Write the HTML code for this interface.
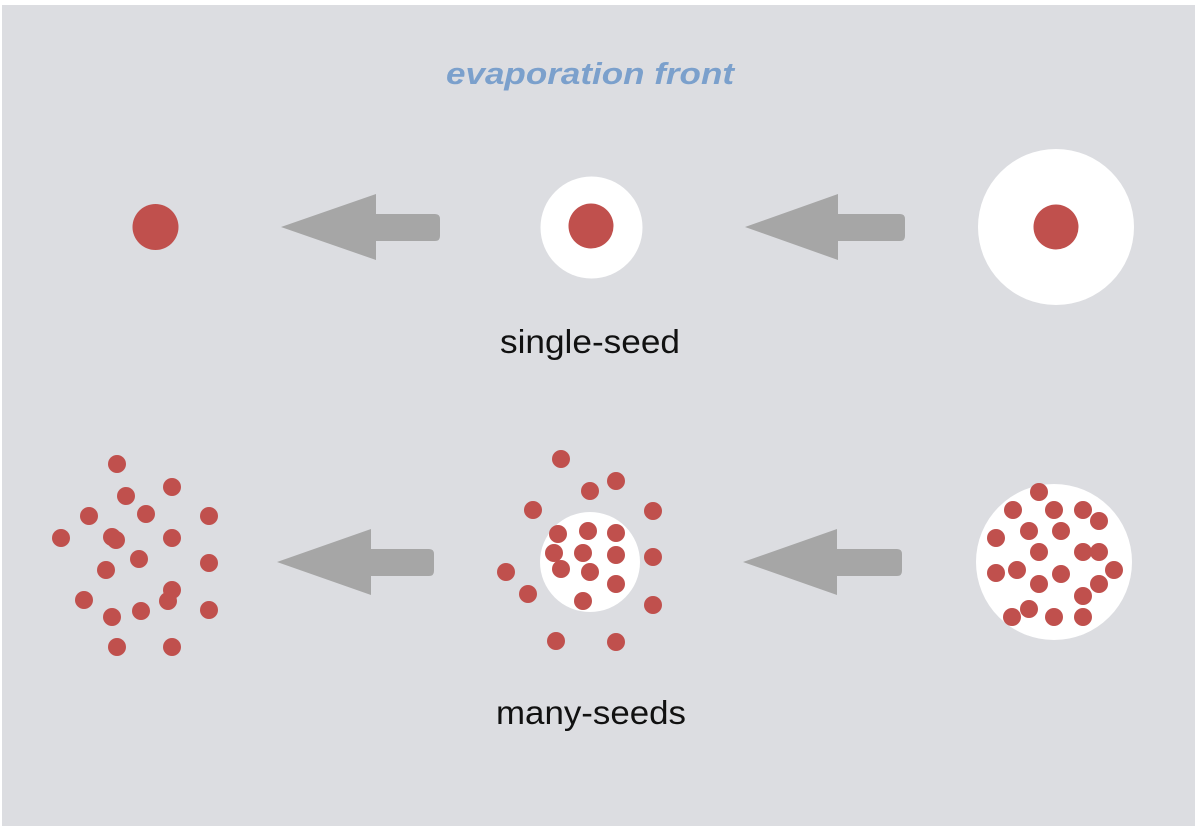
<!DOCTYPE html>
<html><head><meta charset="utf-8"><style>
html,body{margin:0;padding:0;background:#fff;}
svg{display:block;}
</style></head><body>
<svg width="1200" height="829" viewBox="0 0 1200 829" xmlns="http://www.w3.org/2000/svg">
<rect x="0" y="0" width="1200" height="829" fill="#ffffff"/>
<rect x="2" y="5" width="1193" height="821" fill="#dcdde1"/>
<text x="590" y="84" text-anchor="middle" font-family="Liberation Sans, sans-serif" font-size="31" font-style="italic" font-weight="bold" fill="#7ba0cc" textLength="288" lengthAdjust="spacingAndGlyphs">evaporation front</text>
<text x="590" y="353" text-anchor="middle" font-family="Liberation Sans, sans-serif" font-size="33" fill="#111" textLength="180" lengthAdjust="spacingAndGlyphs">single-seed</text>
<text x="591" y="724" text-anchor="middle" font-family="Liberation Sans, sans-serif" font-size="33" fill="#111" textLength="190" lengthAdjust="spacingAndGlyphs">many-seeds</text>
<g fill="#a6a6a6">
<path d="M281,227 L376,194 L376,214 L435,214 Q440,214 440,219 L440,236 Q440,241 435,241 L376,241 L376,260 Z"/>
<path d="M745,227 L838,194 L838,214 L900,214 Q905,214 905,219 L905,236 Q905,241 900,241 L838,241 L838,260 Z"/>
<path d="M277,562 L371,529 L371,549 L429,549 Q434,549 434,554 L434,571 Q434,576 429,576 L371,576 L371,595 Z"/>
<path d="M743,562 L837,529 L837,549 L897,549 Q902,549 902,554 L902,571 Q902,576 897,576 L837,576 L837,595 Z"/>
</g>
<g fill="#ffffff">
<circle cx="591.5" cy="227.5" r="51"/>
<circle cx="1056" cy="227" r="78"/>
<circle cx="590" cy="562" r="50"/>
<circle cx="1054" cy="562" r="78"/>
</g>
<g fill="#c0504d">
<circle cx="155.5" cy="227" r="23"/>
<circle cx="591" cy="226" r="22.5"/>
<circle cx="1056" cy="227" r="22.5"/>
</g>
<g fill="#c0504d">
<circle cx="117" cy="464" r="9"/><circle cx="172" cy="487" r="9"/><circle cx="126" cy="496" r="9"/><circle cx="89" cy="516" r="9"/><circle cx="146" cy="514" r="9"/><circle cx="209" cy="516" r="9"/><circle cx="61" cy="538" r="9"/><circle cx="112" cy="537" r="9"/><circle cx="116" cy="540" r="9"/><circle cx="172" cy="538" r="9"/><circle cx="139" cy="559" r="9"/><circle cx="106" cy="570" r="9"/><circle cx="209" cy="563" r="9"/><circle cx="172" cy="590" r="9"/><circle cx="168" cy="601" r="9"/><circle cx="84" cy="600" r="9"/><circle cx="112" cy="617" r="9"/><circle cx="141" cy="611" r="9"/><circle cx="209" cy="610" r="9"/><circle cx="117" cy="647" r="9"/><circle cx="172" cy="647" r="9"/>
<circle cx="561" cy="459" r="9"/><circle cx="616" cy="481" r="9"/><circle cx="590" cy="491" r="9"/><circle cx="533" cy="510" r="9"/><circle cx="653" cy="511" r="9"/><circle cx="558" cy="534" r="9"/><circle cx="588" cy="531" r="9"/><circle cx="616" cy="533" r="9"/><circle cx="554" cy="553" r="9"/><circle cx="583" cy="553" r="9"/><circle cx="616" cy="555" r="9"/><circle cx="561" cy="569" r="9"/><circle cx="590" cy="572" r="9"/><circle cx="616" cy="584" r="9"/><circle cx="583" cy="601" r="9"/><circle cx="506" cy="572" r="9"/><circle cx="653" cy="557" r="9"/><circle cx="528" cy="594" r="9"/><circle cx="653" cy="605" r="9"/><circle cx="556" cy="641" r="9"/><circle cx="616" cy="642" r="9"/>
<circle cx="1039" cy="492" r="9"/><circle cx="1013" cy="510" r="9"/><circle cx="1054" cy="510" r="9"/><circle cx="1083" cy="510" r="9"/><circle cx="1099" cy="521" r="9"/><circle cx="1029" cy="531" r="9"/><circle cx="1061" cy="531" r="9"/><circle cx="996" cy="538" r="9"/><circle cx="1039" cy="552" r="9"/><circle cx="1083" cy="552" r="9"/><circle cx="1099" cy="552" r="9"/><circle cx="996" cy="573" r="9"/><circle cx="1017" cy="570" r="9"/><circle cx="1061" cy="574" r="9"/><circle cx="1114" cy="570" r="9"/><circle cx="1039" cy="584" r="9"/><circle cx="1099" cy="584" r="9"/><circle cx="1083" cy="596" r="9"/><circle cx="1029" cy="609" r="9"/><circle cx="1012" cy="617" r="9"/><circle cx="1054" cy="617" r="9"/><circle cx="1083" cy="617" r="9"/>
</g>
</svg>
</body></html>
